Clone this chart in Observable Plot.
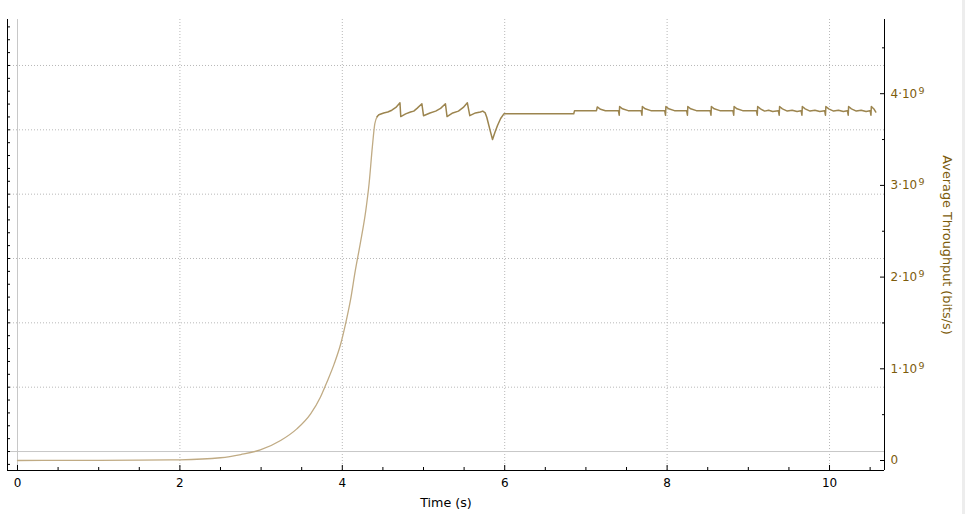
<!DOCTYPE html>
<html><head><meta charset="utf-8">
<script src="https://cdn.jsdelivr.net/npm/d3@7"></script>
<script src="https://cdn.jsdelivr.net/npm/@observablehq/plot@0.6"></script>
<style>
body{margin:0;background:#fff;overflow:hidden}
#strip{position:absolute;left:962px;top:0;width:3px;height:514px;background:#ededed}
</style>
</head><body><div id="chart"></div><div id="strip"></div>
<script>
// Throughput in units of 1e9 bits/s
const riseTime  = [0, 0.5, 1.0, 1.5, 1.88, 2.0, 2.5, 2.75, 2.99, 3.24, 3.44, 3.61, 3.73, 3.81, 3.90, 3.98, 4.04, 4.10, 4.16, 4.22, 4.29, 4.33, 4.37, 4.40, 4.43];
const riseValue = [0.000, 0.001, 0.002, 0.004, 0.006, 0.007, 0.030, 0.065, 0.115, 0.218, 0.345, 0.509, 0.690, 0.854, 1.054, 1.270, 1.490, 1.745, 2.070, 2.360, 2.730, 3.020, 3.420, 3.670, 3.750];

const plateauTime = [4.43, 4.45, 4.51, 4.56, 4.61, 4.66, 4.71, 4.72, 4.78, 4.84, 4.88, 4.92, 4.98, 5.00, 5.08, 5.15, 5.21, 5.27, 5.29, 5.36, 5.43, 5.49, 5.54, 5.57, 5.64, 5.70, 5.73, 5.76, 5.78, 5.82, 5.85, 5.88, 5.91, 5.95, 5.99, 6.85, 6.86, 7.13, 7.14, 7.18, 7.24,
  7.40, 7.41, 7.415, 7.45, 7.52, 7.68, 7.69, 7.695, 7.73, 7.80, 7.97, 7.98, 7.985, 8.02, 8.09, 8.24, 8.25, 8.255, 8.29, 8.36,
  8.53, 8.54, 8.545, 8.58, 8.65, 8.81, 8.82, 8.825, 8.86, 8.93, 9.10, 9.11, 9.115, 9.15, 9.20, 9.25, 9.30,
  9.37, 9.38, 9.385, 9.42, 9.48, 9.54, 9.60, 9.65, 9.66, 9.665, 9.70, 9.76, 9.82, 9.88,
  9.94, 9.95, 9.955, 9.99, 10.05, 10.11, 10.17, 10.22, 10.23, 10.235, 10.27, 10.33, 10.39, 10.45,
  10.50, 10.51, 10.515, 10.55, 10.57];
const plateauValue = [3.75, 3.77, 3.79, 3.80, 3.82, 3.85, 3.90, 3.75, 3.78, 3.80, 3.81, 3.84, 3.89, 3.76, 3.79, 3.81, 3.84, 3.89, 3.75, 3.79, 3.81, 3.85, 3.90, 3.76, 3.79, 3.80, 3.81, 3.79, 3.74, 3.60, 3.50, 3.58, 3.65, 3.73, 3.78, 3.78, 3.815, 3.815, 3.855, 3.83, 3.815,
  3.815, 3.765, 3.86, 3.835, 3.815, 3.815, 3.765, 3.86, 3.835, 3.815, 3.815, 3.765, 3.86, 3.835, 3.815, 3.815, 3.765, 3.86, 3.835, 3.815,
  3.815, 3.765, 3.86, 3.835, 3.815, 3.815, 3.765, 3.86, 3.835, 3.815, 3.815, 3.765, 3.86, 3.835, 3.81, 3.82, 3.805,
  3.815, 3.765, 3.86, 3.835, 3.81, 3.82, 3.805, 3.815, 3.765, 3.86, 3.835, 3.81, 3.82, 3.805,
  3.815, 3.765, 3.86, 3.835, 3.81, 3.82, 3.805, 3.815, 3.765, 3.86, 3.835, 3.81, 3.82, 3.805,
  3.815, 3.765, 3.86, 3.83, 3.80];

const xMajorTicks = [0, 2, 4, 6, 8, 10];
const xMinorTicks = [0.5, 1, 1.5, 2.5, 3, 3.5, 4.5, 5, 5.5, 6.5, 7, 7.5, 8.5, 9, 9.5, 10.5];
const rightMajorTicks = [0, 1, 2, 3, 4];
const rightMinorTicks = [0.5, 1.5, 2.5, 3.5, 4.5];
const leftAxisMajor = [0, 1, 2, 3, 4, 5, 6];

const rise = riseTime.map((t, i) => ({t, v: riseValue[i]}));
const plateau = plateauTime.map((t, i) => ({t, v: plateauValue[i]}));

const xDomain = [-0.123, 10.677];
const yDomain = [-0.109, 4.809];
// secondary (left) axis mapped onto the primary y scale
const leftZero = 0.098, leftUnit = 0.7016;
const toY = L => leftZero + L * leftUnit;
const leftMajorY = leftAxisMajor.map(toY);
const leftMinorY = d3.range(-1, 34).map(i => toY(i * 0.2));

const axisColor = "#7d5c0c";

const chart = Plot.plot({
  width: 965, height: 514,
  marginLeft: 7, marginRight: 81, marginTop: 19, marginBottom: 44,
  style: {fontFamily: "DejaVu Sans", fontSize: "12px", background: "#fff"},
  x: {domain: xDomain, label: null},
  y: {domain: yDomain, label: null},
  marks: [
    Plot.gridX({ticks: [2, 4, 6, 8, 10], stroke: "#b8b8b8", strokeOpacity: 1, strokeDasharray: "1,2"}),
    Plot.gridY({ticks: leftMajorY.slice(1), stroke: "#b8b8b8", strokeOpacity: 1, strokeDasharray: "1,2"}),
    Plot.ruleX([0], {stroke: "#c8c8c8"}),
    Plot.ruleY([leftZero], {stroke: "#c8c8c8"}),
    Plot.line(rise, {x: "t", y: "v", stroke: "#c0ab84", strokeWidth: 1.3, curve: "monotone-x"}),
    Plot.line(plateau, {x: "t", y: "v", stroke: "#9c854f", strokeWidth: 1.5}),
    // frame lines
    Plot.ruleX([xDomain[0], xDomain[1]], {stroke: "#000"}),
    Plot.ruleY([yDomain[0]], {stroke: "#000"}),
    // bottom axis
    Plot.axisX({ticks: xMajorTicks, tickSize: 5, dy: -5, tickFormat: () => "", label: null}),
    Plot.axisX({ticks: xMinorTicks, tickSize: 3, dy: -3, tickFormat: () => "", label: null}),
    Plot.axisX({ticks: xMajorTicks, tickSize: 0, tickPadding: 8, tickFormat: d => String(d), fill: "#000", fontSize: 12, label: null}),
    // left axis (its labels lie outside the visible area)
    Plot.axisY({anchor: "left", ticks: leftMinorY, tickSize: 3, dx: 3, tickFormat: () => "", label: null}),
    // right axis
    Plot.axisY({anchor: "right", ticks: rightMajorTicks, tickSize: 5, dx: -5, tickFormat: () => "", label: null}),
    Plot.axisY({anchor: "right", ticks: rightMinorTicks, tickSize: 3, dx: -3, tickFormat: () => "", label: null}),
    Plot.axisY({anchor: "right", ticks: rightMajorTicks, tickSize: 0, tickPadding: 6, fill: axisColor, fontSize: 12,
      tickFormat: d => d === 0 ? "0" : `${d}·10`, label: null}),
    Plot.axisY({anchor: "right", ticks: rightMajorTicks, tickSize: 0, tickPadding: 34, dy: -3, fill: axisColor, fontSize: 9.5,
      tickFormat: d => d === 0 ? "" : "9", label: null}),
    // titles
    Plot.text(["Time (s)"], {text: d => d, frameAnchor: "bottom", dy: 32, textAnchor: "middle", lineAnchor: "middle", fill: "#000", fontSize: 12.7}),
    Plot.text(["Average Throughput (bits/s)"], {text: d => d, frameAnchor: "right", dx: 63, rotate: 90, textAnchor: "middle", lineAnchor: "middle", fill: axisColor, fontSize: 12.8})
  ]
});
document.getElementById("chart").appendChild(chart);
</script>
</body></html>
